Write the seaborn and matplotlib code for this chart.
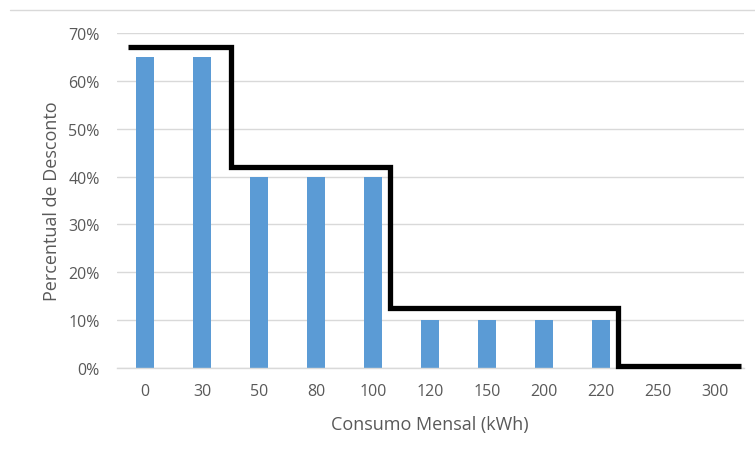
import matplotlib
matplotlib.use("Agg")
import matplotlib.pyplot as plt
import seaborn as sns
import pandas as pd
from matplotlib.lines import Line2D

# Consumption bands and the discount applied to each
consumo = ["0", "30", "50", "80", "100", "120", "150", "200", "220", "250", "300"]
desconto = [65, 65, 40, 40, 40, 10, 10, 10, 10, 0, 0]

# Tariff-step outline: edges (in category positions) and the level of each step
degrau_bordas = [-0.3, 1.5, 4.3, 8.3, 10.45]
degrau_niveis = [67, 42, 12.5, 0.5]

sns.set_theme(style="white")
plt.rcParams["font.family"] = ["Open Sans", "DejaVu Sans"]

df = pd.DataFrame({"consumo": consumo, "desconto": desconto})

fig = plt.figure(figsize=(7.55, 4.56), dpi=100)
W, H = 755, 456
ax = fig.add_axes([116.5 / W, 1 - 369 / H, (743.5 - 116.5) / W, (369 - 34) / H])

sns.barplot(data=df, x="consumo", y="desconto", color="#5b9bd5", width=0.32,
            saturation=1, linewidth=0, ax=ax, zorder=2)

# Step outline
xs, ys = [], []
for i, lvl in enumerate(degrau_niveis):
    xs += [degrau_bordas[i], degrau_bordas[i + 1]]
    ys += [lvl, lvl]
ax.plot(xs, ys, color="black", lw=3.8, solid_joinstyle="miter",
        solid_capstyle="butt", zorder=3, clip_on=False)

ax.set_xlim(-0.5, 10.5)
ax.set_ylim(0, 70)
ax.set_yticks(range(0, 71, 10))
ax.set_yticklabels([f"{v}%" for v in range(0, 71, 10)])
ax.yaxis.grid(True, color="#d9d9d9", lw=1)
ax.set_axisbelow(True)
for s in ["top", "right", "left"]:
    ax.spines[s].set_visible(False)
ax.spines["bottom"].set_color("#d9d9d9")
ax.spines["bottom"].set_linewidth(1)

ax.tick_params(axis="both", length=0, labelsize=11.5, colors="#595959")
ax.tick_params(axis="y", pad=12)
ax.tick_params(axis="x", pad=11)
ax.set_xlabel("Consumo Mensal (kWh)", fontsize=13, color="#595959", labelpad=11)
ax.set_ylabel("Percentual de Desconto", fontsize=13, color="#595959", labelpad=5.5)

# Chart-area border line at the top
fig.add_artist(Line2D([10 / W, 1], [1 - 11 / H, 1 - 11 / H], color="#d9d9d9", lw=1))

fig.savefig("out.png", dpi=100)
